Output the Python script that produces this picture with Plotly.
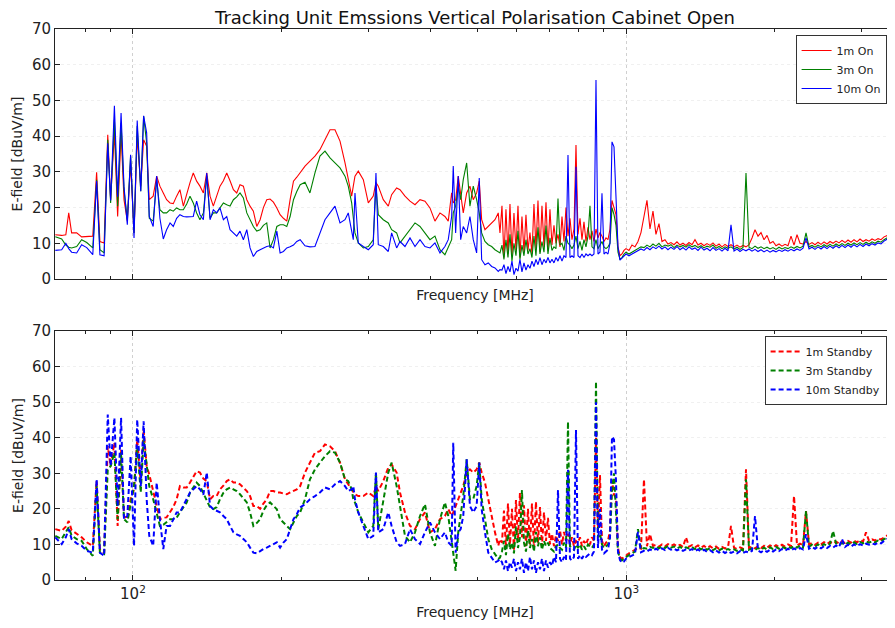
import math
import plotly.graph_objects as go
from plotly.subplots import make_subplots

# frequency points [MHz], shared by both measurements
freq_mhz = [
    69.6, 71.7, 73.1, 74.1, 75.1, 76.9, 78.7, 80.6, 82.9, 84.4, 85.7, 87.4, 88.9, 90.1, 91.7, 93.1, 94.6, 95.9,
    97.4, 98.9, 100.5, 102.0, 103.7, 105.1, 106.6, 107.9, 109.9, 111.7, 113.4, 115.2, 117.0, 118.9, 120.7,
    122.6, 124.5, 126.5, 128.5, 130.5, 132.5, 134.6, 136.7, 138.9, 141.1, 143.3, 145.5, 147.8, 150.1, 152.5,
    154.9, 157.3, 159.8, 162.3, 164.8, 167.4, 170.1, 172.7, 175.4, 178.2, 181.0, 183.8, 186.7, 189.6, 192.6,
    195.7, 198.7, 201.8, 205.0, 208.2, 211.5, 214.8, 218.2,
    223.2, 228.4, 233.8, 239.3, 245.0, 250.8, 256.7, 262.8, 269.0, 273.1, 277.5, 279.6, 281.8, 286.2, 293.0,
    299.9, 306.9, 310.8, 314.2, 321.6, 329.2, 334.4, 342.3, 347.7, 355.9, 364.3, 372.9, 381.7, 390.7, 399.9,
    409.3, 419.0, 428.8, 435.5, 442.5, 445.8, 450.8, 456.3, 461.5, 467.1, 474.6, 481.9, 489.4, 497.2, 503.3,
    509.0, 516.9, 524.9, 533.3, 541.6, 550.0, 554.4,
    559.6, 564.8, 570.1, 575.5, 580.9, 586.3, 591.8, 597.4, 603.0, 608.6, 614.3, 620.1, 625.9, 631.8, 637.7,
    643.7, 649.7, 655.8, 662.0, 668.2, 674.4, 680.8, 687.2, 693.6, 700.1, 706.7, 713.3, 720.0, 726.8, 733.6,
    740.5, 747.4, 754.4, 761.5, 768.6, 775.8, 783.1, 790.5, 797.9, 805.4, 812.9, 820.5, 828.2, 836.0, 843.8,
    851.7, 859.7, 867.8, 875.9, 884.1, 892.4, 900.8, 909.3, 917.8, 926.4, 935.1, 943.9, 952.7, 961.6, 970.6,
    979.7, 988.9, 998.2,
    1012.2, 1026.5, 1040.9, 1055.6, 1070.5, 1085.6, 1100.9, 1116.4, 1132.2, 1148.1, 1164.3, 1180.8, 1197.4,
    1214.3, 1231.4, 1248.8, 1266.4, 1284.3, 1302.4, 1320.8, 1339.4, 1358.3, 1377.4, 1396.9, 1416.6, 1436.6,
    1456.8, 1477.4, 1498.2, 1519.3, 1540.8, 1562.5, 1584.5, 1606.9, 1629.6, 1652.5, 1675.8, 1699.5, 1723.4,
    1747.7, 1772.4, 1797.4, 1822.7, 1848.4, 1874.5, 1900.9, 1927.7, 1954.9, 1982.5, 2010.4, 2038.8, 2067.5,
    2096.7, 2126.2, 2156.2, 2186.6, 2217.5, 2248.7, 2280.4, 2312.6, 2345.2, 2378.3, 2411.8, 2445.8, 2480.3,
    2515.3, 2550.7, 2586.7, 2623.2, 2660.2, 2697.7, 2735.7, 2774.3, 2813.4, 2853.1, 2893.3, 2934.1, 2975.5,
    3017.4, 3060.0, 3103.1, 3146.9, 3191.3, 3236.3, 3281.9, 3328.2, 3375.1, 3422.7, 3471.0, 3520.0,
]

# E-field [dBuV/m], unit switched on
on_1m = [
    12.4, 12.2, 12.4, 18.5, 12.9, 12.9, 11.8, 11.8, 12.0, 29.9, 10.5, 10.1, 40.4, 22.2, 41.0, 17.5, 41.0, 22.2,
    16.2, 32.5, 12.9, 40.0, 26.0, 39.0, 37.2, 22.2, 23.2, 28.8, 26.0, 24.1, 22.2, 21.3, 21.1, 23.2, 25.0, 20.4,
    24.1, 27.0, 29.7, 27.4, 26.0, 24.1, 29.7, 23.2, 20.4, 23.2, 26.0, 27.5, 29.7, 27.5, 25.0, 24.1, 26.4, 26.0,
    22.2, 20.4, 19.0, 14.7, 16.6, 20.0, 22.2, 22.4, 21.5, 19.9, 18.0, 17.0, 16.2, 22.2, 27.4, 28.5, 29.7,
    31.6, 33.0, 34.4, 36.2, 39.0, 41.8, 41.8, 38.6, 32.5, 27.8, 23.2, 26.0, 28.8, 30.2, 27.8, 21.3, 23.2, 27.0,
    26.0, 22.2, 20.4, 23.6, 25.5, 25.0, 23.2, 21.8, 20.8, 22.2, 21.8, 19.9, 16.2, 18.5, 17.5, 16.2, 24.1, 21.3,
    22.2, 28.8, 23.2, 18.5, 24.1, 26.0, 22.2, 24.1, 27.4, 16.6, 13.8, 14.7, 15.7, 16.6, 18.5, 12.9,
    20.5, 6.0, 19.5, 7.0, 21.0, 6.5, 18.5, 8.0, 20.5, 6.0, 17.5, 7.5, 18.0, 8.0, 13.0, 7.0, 21.0, 8.5, 22.0, 7.5,
    20.5, 9.0, 21.5, 8.0, 19.5, 9.5, 15.0, 10.0, 12.5, 9.0, 17.5, 10.5, 20.0, 12.0, 17.0, 11.0, 14.0, 37.5,
    12.5, 17.0, 11.0, 16.0, 10.5, 14.5, 11.0, 13.5, 10.5, 14.0, 11.5, 13.0, 12.0, 10.5, 11.5, 11.0, 14.0, 22.0,
    20.0, 18.0, 9.0, 6.5, 7.0, 8.0, 8.5,
    8.0, 9.5, 9.0, 10.5, 13.0, 17.5, 22.0, 14.0, 19.0, 12.5, 15.5, 10.5, 11.0, 9.8, 10.2, 9.6, 10.4, 9.5, 10.0,
    9.4, 10.2, 9.6, 11.0, 9.5, 10.0, 9.3, 9.9, 9.4, 10.1, 9.2, 9.8, 9.0, 9.7, 9.1, 9.6, 9.0, 9.5, 8.9, 9.4, 9.0,
    9.6, 11.5, 13.8, 12.0, 13.0, 11.0, 12.2, 10.0, 10.5, 9.3, 9.8, 9.2, 9.7, 9.3, 12.0, 9.5, 12.4, 10.0, 9.8,
    10.5, 9.7, 10.2, 9.6, 10.3, 9.7, 10.4, 9.8, 10.5, 10.0, 10.6, 10.1, 10.8, 10.2, 10.9, 10.3, 11.0, 10.4,
    11.2, 10.5, 11.0, 10.6, 11.2, 10.8, 11.3, 11.0, 11.8, 12.2, 12.6, 13.0, 13.2,
]
on_3m = [
    11.8, 11.2, 9.5, 8.9, 8.7, 9.1, 11.0, 10.2, 8.7, 27.8, 8.2, 7.3, 39.0, 21.3, 44.6, 20.4, 43.7, 25.0, 16.6,
    34.4, 12.9, 42.8, 24.6, 45.6, 38.1, 17.0, 16.2, 27.8, 19.4, 18.5, 18.5, 19.4, 19.0, 19.9, 19.4, 19.4, 21.0,
    23.2, 21.3, 18.5, 16.6, 18.5, 28.8, 17.0, 18.5, 18.5, 19.9, 21.3, 20.8, 20.4, 22.2, 23.0, 24.1, 22.7, 18.5,
    16.5, 14.7, 13.4, 13.8, 15.0, 15.7, 8.7, 11.0, 14.7, 15.2, 15.2, 14.7, 17.5, 22.2, 24.5, 26.4,
    27.1, 24.1, 29.7, 34.4, 35.8, 33.9, 32.5, 31.1, 28.8, 26.0, 21.3, 17.5, 12.9, 10.1, 8.7, 9.1, 11.0, 26.0,
    18.0, 16.6, 15.7, 13.8, 12.9, 10.1, 12.0, 13.8, 15.7, 14.7, 12.9, 11.0, 12.0, 8.2, 6.8, 9.1, 11.0, 18.5,
    20.4, 26.0, 22.2, 27.8, 32.5, 20.4, 26.0, 22.2, 18.5, 12.9, 10.5, 9.6, 9.1, 8.2, 7.7, 7.3,
    9.5, 5.5, 11.0, 6.0, 12.5, 5.0, 10.0, 6.5, 13.5, 5.5, 9.5, 6.5, 11.0, 7.0, 8.5, 6.0, 12.0, 6.5, 14.5, 7.0,
    10.5, 7.5, 15.0, 7.0, 11.5, 8.0, 9.0, 8.5, 22.5, 9.5, 10.0, 8.0, 12.0, 10.0, 9.5, 8.5, 9.5, 12.0, 8.5, 10.5,
    8.0, 11.0, 9.0, 12.0, 20.5, 9.0, 8.5, 11.0, 8.5, 9.5, 10.5, 9.0, 8.5, 9.0, 10.0, 20.0, 18.0, 15.0, 7.5, 5.5,
    6.0, 7.0, 7.5,
    7.0, 7.5, 8.0, 8.5, 9.0, 8.8, 9.5, 9.0, 9.8, 9.2, 10.0, 9.0, 9.5, 9.2, 9.6, 8.8, 9.5, 9.0, 9.4, 8.9,
    9.6, 9.0, 9.4, 8.8, 9.3, 8.7, 9.2, 8.9, 9.5, 8.6, 9.1, 8.5, 9.0, 8.6, 9.0, 8.4, 8.9, 8.3, 8.8, 29.7,
    8.9, 8.5, 9.2, 8.6, 9.0, 8.5, 8.9, 8.4, 8.8, 8.3, 8.9, 8.4, 8.8, 8.5, 9.0, 8.6, 9.1, 8.7, 9.2, 12.9,
    9.0, 9.4, 8.9, 9.5, 9.0, 9.6, 9.1, 9.7, 9.2, 9.8, 9.3, 9.9, 9.4, 10.0, 9.5, 10.1, 9.6, 10.2, 9.7, 10.3,
    9.8, 10.4, 10.0, 10.6, 10.3, 11.0, 11.6, 12.0, 12.4, 12.6,
]
on_10m = [
    8.0, 8.2, 10.0, 8.5, 7.5, 7.3, 9.6, 8.8, 6.8, 27.4, 6.8, 6.5, 38.0, 22.0, 48.5, 23.0, 46.5, 26.0, 15.2,
    34.8, 11.5, 44.4, 24.6, 45.7, 40.9, 17.5, 14.7, 28.8, 17.0, 11.2, 13.8, 15.7, 14.7, 17.0, 18.0, 17.5, 17.4,
    17.5, 17.5, 21.8, 18.0, 16.6, 29.7, 16.6, 19.4, 18.5, 19.9, 16.6, 17.5, 13.8, 12.9, 12.0, 13.4, 11.0, 13.8,
    8.7, 6.3, 7.7, 8.2, 8.7, 9.1, 9.3, 8.7, 13.4, 7.3, 7.7, 8.7, 9.0, 9.5, 10.5, 11.0,
    9.3, 9.0, 9.1, 12.9, 16.6, 18.5, 20.4, 15.7, 16.6, 18.5, 12.9, 11.0, 24.1, 10.1, 9.1, 8.2, 9.6, 29.7, 9.6,
    9.1, 7.7, 12.9, 8.7, 10.5, 9.1, 11.5, 9.1, 11.0, 9.1, 8.7, 10.1, 7.3, 9.1, 11.0, 17.5, 31.6, 12.9, 28.8,
    11.0, 14.7, 12.9, 17.5, 11.0, 7.3, 28.3, 5.4, 4.0, 4.5, 3.5, 3.1, 2.1, 2.6,
    2.5, 4.0, 1.5, 3.5, 2.0, 5.0, 1.2, 3.0, 2.2, 5.5, 2.0, 4.5, 2.5, 4.0, 3.0, 5.0, 3.5, 5.5, 4.0, 6.0,
    4.0, 5.5, 4.5, 6.0, 4.5, 5.5, 4.5, 6.0, 5.0, 6.5, 5.0, 6.5, 6.0, 34.7, 6.0, 6.5, 6.0, 31.4, 6.5, 6.0,
    7.0, 6.0, 7.0, 6.5, 7.0, 6.5, 7.0, 55.7, 7.0, 7.5, 24.0, 7.0, 7.5, 7.0, 10.0, 38.4, 37.0, 24.0, 9.0, 5.3,
    5.8, 6.5, 7.0,
    6.5, 7.0, 7.5, 7.8, 8.4, 8.0, 8.8, 8.2, 9.0, 8.5, 9.2, 8.4, 9.0, 8.2, 8.9, 8.3, 9.1, 8.2, 8.8, 8.1,
    9.0, 8.3, 8.7, 8.0, 8.9, 8.1, 8.6, 7.9, 8.8, 8.0, 8.5, 7.8, 8.6, 7.9, 15.2, 7.8, 8.4, 7.7, 8.3, 7.9,
    8.4, 7.8, 8.3, 7.7, 8.2, 7.6, 8.1, 7.5, 8.0, 7.6, 8.1, 7.7, 8.2, 7.8, 8.3, 7.9, 8.4, 8.0, 8.6, 11.5,
    8.4, 8.9, 8.3, 9.0, 8.4, 9.1, 8.5, 9.2, 8.6, 9.3, 8.7, 9.4, 8.8, 9.5, 8.9, 9.6, 9.0, 9.7, 9.1, 9.8,
    9.3, 9.9, 9.5, 10.1, 9.8, 10.6, 11.2, 11.8, 12.2, 12.4,
]

# E-field [dBuV/m], unit in standby
standby_1m = [
    14.3, 13.8, 15.0, 16.6, 14.0, 13.0, 12.0, 10.6, 9.6, 27.8, 8.7, 7.7, 37.6, 32.0, 38.6, 15.2, 36.7, 18.0,
    17.1, 22.7, 25.5, 39.5, 27.4, 42.3, 32.0, 29.7, 24.6, 20.8, 17.1, 17.5, 17.6, 19.0, 20.5, 22.7, 26.4, 26.0,
    26.0, 27.4, 29.0, 30.6, 30.2, 28.5, 27.8, 22.7, 23.6, 23.6, 25.5, 26.5, 27.8, 28.3, 27.4, 27.4, 26.9, 26.0,
    25.0, 23.6, 20.8, 20.8, 20.0, 21.5, 22.7, 25.0, 25.0, 24.6, 24.6, 24.3, 24.1, 24.6, 25.0, 25.5, 26.4,
    30.2, 33.0, 35.8, 36.2, 38.1, 37.6, 36.2, 33.0, 28.3, 26.9, 25.5, 24.6, 24.1, 23.6, 23.6, 24.6, 23.6, 26.4,
    25.0, 27.8, 31.6, 32.5, 30.2, 24.6, 19.0, 15.2, 14.3, 17.1, 19.0, 13.4, 14.3, 17.1, 18.0, 19.9, 18.0, 19.0,
    20.8, 22.7, 24.6, 26.4, 30.2, 31.1, 30.2, 31.1, 33.0, 30.2, 27.4, 22.7, 18.0, 13.4, 9.6, 11.5,
    10.5, 19.5, 9.0, 21.5, 10.0, 20.0, 8.5, 22.5, 11.0, 24.5, 12.0, 21.0, 9.5, 20.0, 10.0, 21.5, 9.0, 22.0,
    10.5, 20.5, 9.5, 19.0, 11.0, 17.5, 10.0, 13.0, 9.5, 12.5, 11.0, 14.0, 10.0, 13.5, 11.0, 13.0, 10.0, 12.0,
    9.5, 11.0, 10.5, 12.0, 9.5, 11.0, 10.0, 11.5, 10.0, 12.0, 11.0, 40.0, 14.0, 29.5, 11.0, 9.5, 10.5, 11.0,
    14.0, 28.0, 24.0, 23.0, 9.0, 6.5, 6.0, 6.5, 7.0,
    7.5, 8.0, 8.5, 9.0, 8.8, 28.3, 9.5, 12.9, 9.6, 9.9, 9.4, 10.0, 9.5, 10.1, 9.6, 10.0, 9.5, 9.9, 9.3, 12.0,
    9.4, 9.8, 9.2, 9.7, 9.1, 9.6, 9.0, 9.5, 8.9, 9.4, 8.8, 9.3, 8.9, 9.2, 15.2, 9.1, 8.7, 9.2, 8.8, 31.1,
    9.0, 9.4, 8.9, 9.5, 9.0, 9.6, 9.1, 9.7, 9.2, 9.8, 9.3, 9.9, 9.4, 10.0, 9.6, 23.6, 9.7, 10.2, 9.8, 19.4,
    10.0, 10.4, 9.9, 10.5, 10.0, 10.6, 10.1, 10.7, 10.2, 10.8, 10.3, 10.9, 10.4, 11.0, 10.5, 11.1, 10.6, 11.2,
    10.8, 13.4, 11.0, 11.4, 11.1, 11.6, 11.4, 12.0, 12.5, 12.9, 13.2, 13.4,
]
standby_3m = [
    12.4, 11.5, 13.5, 14.8, 12.5, 11.5, 11.0, 8.7, 6.8, 26.4, 7.7, 7.3, 31.1, 32.0, 35.8, 17.1, 35.8, 17.1,
    16.2, 20.8, 26.4, 37.6, 24.6, 39.5, 32.0, 26.4, 22.7, 19.0, 15.2, 15.5, 16.2, 17.1, 17.1, 17.5, 19.0, 20.5,
    21.8, 24.6, 26.0, 27.4, 26.4, 24.5, 22.7, 20.4, 19.9, 20.5, 22.7, 24.5, 25.5, 26.0, 25.5, 25.0, 24.1, 23.0,
    21.8, 19.0, 15.2, 16.0, 17.1, 19.5, 21.0, 21.8, 20.8, 19.9, 17.1, 16.0, 15.2, 14.3, 16.2, 18.0, 19.0,
    22.7, 28.3, 31.1, 33.0, 34.8, 36.2, 35.8, 33.0, 28.3, 27.8, 25.5, 22.7, 21.8, 19.0, 16.2, 13.4, 15.2, 30.2,
    14.3, 22.7, 30.2, 33.0, 26.4, 20.8, 12.4, 10.6, 13.4, 18.0, 21.3, 13.4, 9.6, 17.1, 21.8, 18.0, 11.5, 7.7,
    2.6, 13.4, 19.0, 23.6, 33.9, 22.7, 22.7, 26.4, 33.0, 22.7, 17.1, 11.5, 8.7, 7.3, 5.9, 6.3,
    8.0, 11.0, 7.0, 13.0, 8.5, 10.5, 7.5, 15.0, 9.0, 12.0, 25.3, 10.5, 8.0, 14.0, 9.0, 11.5, 8.0, 13.5, 9.5,
    12.0, 8.5, 11.0, 9.5, 10.5, 9.0, 8.5, 8.0, 9.5, 10.0, 9.0, 8.5, 10.5, 9.0, 44.5, 9.5, 9.0, 8.5, 10.0, 9.0,
    10.0, 8.5, 9.5, 8.5, 10.0, 9.5, 9.0, 10.0, 55.8, 12.0, 13.0, 10.0, 9.0, 9.5, 10.0, 12.0, 25.0, 30.0, 18.0,
    8.0, 6.0, 5.5, 6.0, 6.5,
    7.0, 7.5, 8.0, 14.3, 8.5, 9.0, 8.8, 9.3, 9.0, 9.4, 8.9, 9.5, 9.0, 9.6, 9.1, 9.4, 8.9, 9.3, 8.8, 9.2,
    8.9, 9.3, 8.7, 9.2, 8.6, 9.1, 8.5, 9.0, 8.4, 8.9, 8.3, 8.8, 8.4, 8.7, 8.3, 8.6, 8.2, 8.7, 8.3, 28.3,
    8.5, 8.9, 8.4, 9.0, 8.5, 9.1, 8.6, 9.2, 8.7, 9.3, 8.8, 9.4, 8.9, 9.5, 9.0, 9.6, 9.1, 9.7, 9.2, 19.4,
    9.4, 9.9, 9.4, 10.0, 9.5, 10.1, 9.6, 10.2, 13.8, 10.3, 9.8, 10.4, 9.9, 10.5, 10.0, 10.6, 10.1, 10.7, 10.3,
    10.8, 10.5, 10.9, 10.6, 11.1, 10.9, 11.5, 12.0, 12.4, 12.7, 12.9,
]
standby_10m = [
    12.0, 10.1, 12.0, 14.3, 11.5, 10.3, 9.6, 8.2, 7.7, 28.3, 7.7, 6.8, 46.5, 32.0, 45.6, 20.8, 45.6, 17.1,
    18.0, 34.8, 9.6, 45.1, 26.4, 44.6, 22.7, 12.4, 9.6, 27.4, 17.1, 8.7, 15.2, 15.2, 17.0, 19.0, 19.0, 21.0,
    22.7, 24.6, 25.5, 26.4, 25.5, 24.0, 30.2, 20.8, 19.9, 19.5, 19.0, 18.0, 17.1, 15.2, 13.4, 12.8, 12.4, 11.5,
    10.6, 9.1, 7.7, 7.5, 8.2, 8.7, 9.1, 9.6, 10.0, 10.6, 9.1, 10.5, 11.5, 14.3, 17.1, 18.5, 20.4,
    21.3, 22.7, 23.6, 24.6, 26.0, 25.5, 26.9, 27.8, 26.4, 25.0, 25.5, 26.4, 22.7, 19.0, 15.2, 11.5, 12.4, 30.2,
    13.4, 14.3, 19.0, 15.2, 10.6, 9.6, 10.1, 14.3, 11.5, 10.1, 13.4, 16.2, 13.4, 11.5, 13.4, 10.6, 9.6, 38.6,
    7.7, 13.4, 14.3, 18.0, 33.9, 20.8, 19.0, 20.8, 33.0, 19.9, 13.4, 7.7, 6.3, 4.9, 5.4, 5.9,
    5.0, 3.0, 5.5, 2.5, 5.0, 3.5, 6.0, 2.5, 5.0, 3.0, 6.0, 2.0, 5.0, 2.5, 6.5, 3.0, 5.5, 2.0, 5.0, 3.0,
    6.0, 2.5, 5.5, 3.5, 5.0, 4.0, 6.5, 5.0, 25.3, 6.0, 5.0, 6.5, 5.5, 31.0, 6.0, 5.5, 6.5, 42.2, 6.0, 7.0,
    6.0, 7.0, 6.5, 7.0, 7.5, 7.0, 8.0, 50.0, 9.0, 20.0, 8.5, 7.5, 8.0, 8.5, 12.0, 40.3, 39.5, 28.0, 8.0, 5.6,
    4.9, 5.2, 6.0,
    6.5, 7.0, 7.3, 13.5, 7.8, 8.2, 8.0, 8.6, 8.2, 8.8, 8.3, 8.9, 8.4, 9.0, 8.5, 8.8, 8.3, 8.7, 8.2, 8.6,
    8.3, 8.7, 8.1, 8.6, 8.0, 8.5, 7.9, 8.4, 7.8, 8.3, 7.7, 8.2, 7.6, 8.1, 7.6, 8.0, 7.5, 8.1, 7.6, 8.0,
    7.7, 8.2, 18.0, 8.3, 7.8, 8.4, 7.9, 8.5, 8.0, 8.6, 8.1, 8.7, 8.2, 8.8, 8.3, 8.9, 8.4, 9.0, 8.6, 12.9,
    8.8, 9.3, 8.8, 9.4, 8.9, 9.5, 9.0, 9.6, 9.1, 9.7, 9.2, 11.5, 9.3, 9.9, 9.4, 10.0, 9.5, 10.1, 9.7, 10.2,
    9.9, 10.3, 10.0, 10.5, 10.3, 11.0, 11.6, 12.0, 12.3, 12.5,
]

for s in (on_1m, on_3m, on_10m, standby_1m, standby_3m, standby_10m):
    assert len(s) == len(freq_mhz), (len(s), len(freq_mhz))

colors = {"1m": "#ff0000", "3m": "#008000", "10m": "#0000ff"}

fig = make_subplots(rows=2, cols=1)

for name, vals in [("1m", on_1m), ("3m", on_3m), ("10m", on_10m)]:
    fig.add_trace(go.Scatter(x=freq_mhz, y=vals, mode="lines", name=name + " On",
                             line=dict(color=colors[name], width=1.1), legend="legend"),
                  row=1, col=1)

for name, vals in [("1m", standby_1m), ("3m", standby_3m), ("10m", standby_10m)]:
    fig.add_trace(go.Scatter(x=freq_mhz, y=vals, mode="lines", name=name + " Standby",
                             line=dict(color=colors[name], width=2, dash="5px,3px"), legend="legend2"),
                  row=2, col=1)

# page body keeps an 8px margin: figure sized so it fits without scrollbars
xrange = [math.log10(69.5), math.log10(3503)]
for r in (1, 2):
    fig.update_xaxes(type="log", range=xrange, showline=True, linecolor="#222", linewidth=1,
                     mirror="ticks", ticks="inside", ticklen=5, tickcolor="#222",
                     tickvals=[100, 1000], ticktext=["10<sup>2</sup>", "10<sup>3</sup>"],
                     tickfont=dict(size=15),
                     minor=dict(ticks="inside", ticklen=3, tickcolor="#222",
                                tickvals=[80, 90, 200, 300, 400, 500, 600, 700, 800, 900, 2000, 3000]),
                     showgrid=True, gridcolor="#d0d0d0", griddash="dot", zeroline=False,
                     automargin=False, row=r, col=1)
    fig.update_yaxes(range=[0, 70], dtick=10, showline=True, linecolor="#222", linewidth=1,
                     ticks="inside", ticklen=5, tickcolor="#222", tickfont=dict(size=15),
                     showgrid=True, gridcolor="#f0f0f0", griddash="dot", zeroline=False, automargin=False,
                     title=dict(text="E-field [dBuV/m]", font=dict(size=14), standoff=5),
                     row=r, col=1)
fig.update_xaxes(showticklabels=False, title=dict(text="Frequency [MHz]", font=dict(size=14), standoff=11),
                 row=1, col=1)
fig.update_xaxes(title=dict(text="Frequency [MHz]", font=dict(size=14), standoff=5), row=2, col=1)

fig.update_layout(
    width=887, height=612,
    margin=dict(l=47, r=0, t=21, b=40),
    paper_bgcolor="white", plot_bgcolor="white",
    font=dict(family="DejaVu Sans", size=14, color="#222"),
    title=dict(text="Tracking Unit Emssions Vertical Polarisation Cabinet Open",
               x=0.5, xref="paper", xanchor="center", y=1 - 10 / 612, yref="container",
               yanchor="middle", font=dict(size=18, color="#111")),
    yaxis=dict(domain=[0.5463, 1]),
    yaxis2=dict(domain=[0, 0.4519]),
    legend=dict(x=0.99, xanchor="right", y=0.989, yanchor="top", bgcolor="white",
                bordercolor="#333", borderwidth=1, font=dict(size=11), tracegroupgap=0),
    legend2=dict(x=0.99, xanchor="right", y=0.443, yanchor="top", bgcolor="white",
                 bordercolor="#333", borderwidth=1, font=dict(size=11), tracegroupgap=0),
    showlegend=True,
)

fig.write_html("out.html")
